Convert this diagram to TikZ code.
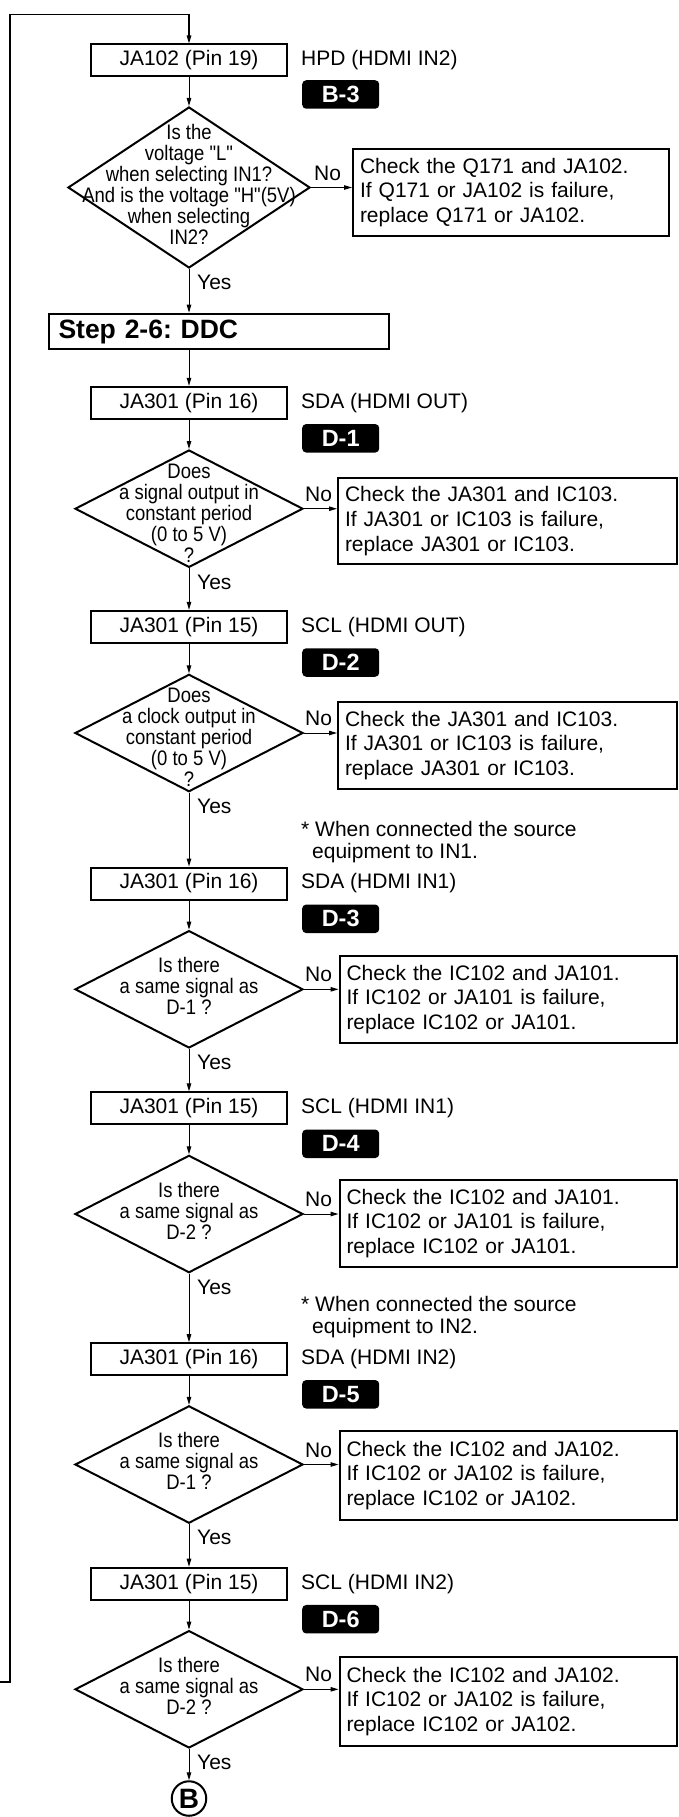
\documentclass[tikz,border=0pt]{standalone}
\usepackage{fontspec}
\setmainfont{Liberation Sans}
\newfontfamily\narrowfont[FakeStretch=0.88]{Liberation Sans}
\usetikzlibrary{arrows.meta,shapes.geometric,calc}
\frenchspacing
\tikzset{
  txt/.style={font=\fontsize{21pt}{24.7pt}\selectfont},
  proc/.style={draw, line width=2pt, minimum width=196.5pt, minimum height=32pt, inner sep=0pt, txt},
  side/.style={anchor=west, inner sep=0pt, txt},
  badge/.style={fill=black, text=white, rounded corners=4pt, minimum width=77pt, minimum height=28.5pt, inner sep=0pt, anchor=west, font=\bfseries\fontsize{23.5pt}{25pt}\selectfont},
  dia/.style={draw, diamond, line width=2pt, inner sep=0pt, minimum width=228pt, minimum height=117.4pt},
  dtxt/.style={align=center, inner sep=0pt, font=\narrowfont\fontsize{21pt}{21pt}\selectfont},
  chk/.style={draw, line width=2pt, anchor=north west, align=left, inner xsep=7pt, inner ysep=0pt, txt},
  stepbox/.style={draw, line width=2pt, anchor=north west, align=left, inner xsep=10pt, inner ysep=0pt, font=\bfseries\fontsize{26.5pt}{28pt}\selectfont},
  conn/.style={line width=1pt, -{Triangle[length=8pt,width=4.5pt]}},
  lbl/.style={inner sep=0pt, txt},
  note/.style={anchor=west, align=left, inner sep=0pt, font=\fontsize{21pt}{22.6pt}\selectfont},
}
\begin{document}
\begin{tikzpicture}[x=1pt,y=-1pt]
\useasboundingbox (0,0) rectangle (678,1817);

% ---- block 1
\node[proc] (b1) at (189,60.5) {JA102 (Pin 19)};
\node[side] (s1) at (301,60.5) {HPD (HDMI IN2)};
\node[badge] (g1) at (302,94.5) {B-3};
\node[dia, minimum width=242pt, minimum height=161pt] (d1) at (189,187.5) {};
\node[dtxt] (t1) at ($(d1.center)+(0,-2.7)$) {Is the\\voltage "L"\\when selecting IN1?\\And is the voltage "H"(5V)\\when selecting\\IN2?};
\node[chk, minimum width=316pt, minimum height=87pt, text width=302pt] (c1) at (352,148) {Check the Q171 and JA102.\\If Q171 or JA102 is failure,\\replace Q171 or JA102.};

% ---- step
\node[stepbox, minimum width=340.5pt, minimum height=35.6pt, text width=320.5pt] (st) at (47.5,312.7) {Step 2-6: DDC};

% ---- block 2
\node[proc] (b2) at (189,402.8) {JA301 (Pin 16)};
\node[side] (s2) at (301,402.8) {SDA (HDMI OUT)};
\node[badge] (g2) at (302,438.3) {D-1};
\node[dia] (d2) at (189,508.7) {};
\node[dtxt] (t2) at ($(d2.center)+(0,4.5)$) {Does\\a signal output in\\constant period\\(0 to 5 V)\\?};
\node[chk, minimum width=339pt, minimum height=86pt, text width=325pt] (c2) at (337,477) {Check the JA301 and IC103.\\If JA301 or IC103 is failure,\\replace JA301 or IC103.};

% ---- block 3
\node[proc] (b3) at (189,626.8) {JA301 (Pin 15)};
\node[side] (s3) at (301,626.8) {SCL (HDMI OUT)};
\node[badge] (g3) at (302,662.5) {D-2};
\node[dia] (d3) at (189,733) {};
\node[dtxt] (t3) at ($(d3.center)+(0,4.5)$) {Does\\a clock output in\\constant period\\(0 to 5 V)\\?};
\node[chk, minimum width=339pt, minimum height=87pt, text width=325pt] (c3) at (337,701) {Check the JA301 and IC103.\\If JA301 or IC103 is failure,\\replace JA301 or IC103.};

\node[note] (n1) at (301,842) {* When connected the source\\\hspace*{11pt}equipment to IN1.};

% ---- block 4
\node[proc] (b4) at (189,883.5) {JA301 (Pin 16)};
\node[side] (s4) at (301,883.5) {SDA (HDMI IN1)};
\node[badge] (g4) at (302,918.8) {D-3};
\node[dia] (d4) at (189,989.3) {};
\node[dtxt] (t4) at ($(d4.center)+(0,-3.5)$) {Is there\\a same signal as\\D-1 ?};
\node[chk, minimum width=337.5pt, minimum height=87pt, text width=323.5pt] (c4) at (338.5,955) {Check the IC102 and JA101.\\If IC102 or JA101 is failure,\\replace IC102 or JA101.};

% ---- block 5
\node[proc] (b5) at (189,1108.3) {JA301 (Pin 15)};
\node[side] (s5) at (301,1108.3) {SCL (HDMI IN1)};
\node[badge] (g5) at (302,1143.8) {D-4};
\node[dia] (d5) at (189,1214) {};
\node[dtxt] (t5) at ($(d5.center)+(0,-3.5)$) {Is there\\a same signal as\\D-2 ?};
\node[chk, minimum width=337.5pt, minimum height=87pt, text width=323.5pt] (c5) at (338.5,1179) {Check the IC102 and JA101.\\If IC102 or JA101 is failure,\\replace IC102 or JA101.};

\node[note] (n2) at (301,1317) {* When connected the source\\\hspace*{11pt}equipment to IN2.};

% ---- block 6
\node[proc] (b6) at (189,1359.2) {JA301 (Pin 16)};
\node[side] (s6) at (301,1359.2) {SDA (HDMI IN2)};
\node[badge] (g6) at (302,1394.3) {D-5};
\node[dia] (d6) at (189,1464.5) {};
\node[dtxt] (t6) at ($(d6.center)+(0,-3.5)$) {Is there\\a same signal as\\D-1 ?};
\node[chk, minimum width=337.5pt, minimum height=89pt, text width=323.5pt] (c6) at (338.5,1430) {Check the IC102 and JA102.\\If IC102 or JA102 is failure,\\replace IC102 or JA102.};

% ---- block 7
\node[proc] (b7) at (189,1583.7) {JA301 (Pin 15)};
\node[side] (s7) at (301,1583.7) {SCL (HDMI IN2)};
\node[badge] (g7) at (302,1619.2) {D-6};
\node[dia] (d7) at (189,1689.3) {};
\node[dtxt] (t7) at ($(d7.center)+(0,-3.5)$) {Is there\\a same signal as\\D-2 ?};
\node[chk, minimum width=337.5pt, minimum height=89pt, text width=323.5pt] (c7) at (338.5,1656) {Check the IC102 and JA102.\\If IC102 or JA102 is failure,\\replace IC102 or JA102.};

% ---- terminal
\node[draw, circle, line width=2pt, minimum size=34.5pt, inner sep=0pt, font=\bfseries\fontsize{28pt}{28pt}\selectfont] (cb) at (189,1798.5) {B};

% ---- loop back line
\coordinate (lin) at (0,1682);
\coordinate (lc1) at (10,1682);
\coordinate (lc2) at (10,14.7);
\draw[conn, line width=1.2pt] (lin) -- (lc1) -- (lc2) -- (lc2 -| b1.north) -- (b1.north);

% ---- vertical flow
\draw[conn] (b1.south) -- (d1.north);
\draw[conn] (d1.south) -- (d1.south |- st.north);
\draw[conn] (b2.north |- st.south) -- (b2.north);
\draw[conn] (b2.south) -- (d2.north);
\draw[conn] (d2.south) -- (b3.north);
\draw[conn] (b3.south) -- (d3.north);
\draw[conn] (d3.south) -- (b4.north);
\draw[conn] (b4.south) -- (d4.north);
\draw[conn] (d4.south) -- (b5.north);
\draw[conn] (b5.south) -- (d5.north);
\draw[conn] (d5.south) -- (b6.north);
\draw[conn] (b6.south) -- (d6.north);
\draw[conn] (d6.south) -- (b7.north);
\draw[conn] (b7.south) -- (d7.north);
\draw[conn] (d7.south) -- (cb.north);

% ---- No branches
\draw[conn] (d1.east) -- (d1.east -| c1.west);
\draw[conn] (d2.east) -- (d2.east -| c2.west);
\draw[conn] (d3.east) -- (d3.east -| c3.west);
\draw[conn] (d4.east) -- (d4.east -| c4.west);
\draw[conn] (d5.east) -- (d5.east -| c5.west);
\draw[conn] (d6.east) -- (d6.east -| c6.west);
\draw[conn] (d7.east) -- (d7.east -| c7.west);

\node[lbl, anchor=south west] (no1) at ($(d1.east)+(3,-7)$) {No};
\node[lbl, anchor=south west] (no2) at ($(d2.east)+(1,-7)$) {No};
\node[lbl, anchor=south west] (no3) at ($(d3.east)+(1,-7)$) {No};
\node[lbl, anchor=south west] (no4) at ($(d4.east)+(1,-7)$) {No};
\node[lbl, anchor=south west] (no5) at ($(d5.east)+(1,-7)$) {No};
\node[lbl, anchor=south west] (no6) at ($(d6.east)+(1,-7)$) {No};
\node[lbl, anchor=south west] (no7) at ($(d7.east)+(1,-7)$) {No};

% ---- Yes labels
\node[lbl, anchor=west] (y1) at ($(d1.south)+(8,13.5)$) {Yes};
\node[lbl, anchor=west] (y2) at ($(d2.south)+(8,13.5)$) {Yes};
\node[lbl, anchor=west] (y3) at ($(d3.south)+(8,13.5)$) {Yes};
\node[lbl, anchor=west] (y4) at ($(d4.south)+(8,13.5)$) {Yes};
\node[lbl, anchor=west] (y5) at ($(d5.south)+(8,13.5)$) {Yes};
\node[lbl, anchor=west] (y6) at ($(d6.south)+(8,13.5)$) {Yes};
\node[lbl, anchor=west] (y7) at ($(d7.south)+(8,13.5)$) {Yes};
\end{tikzpicture}
\end{document}
